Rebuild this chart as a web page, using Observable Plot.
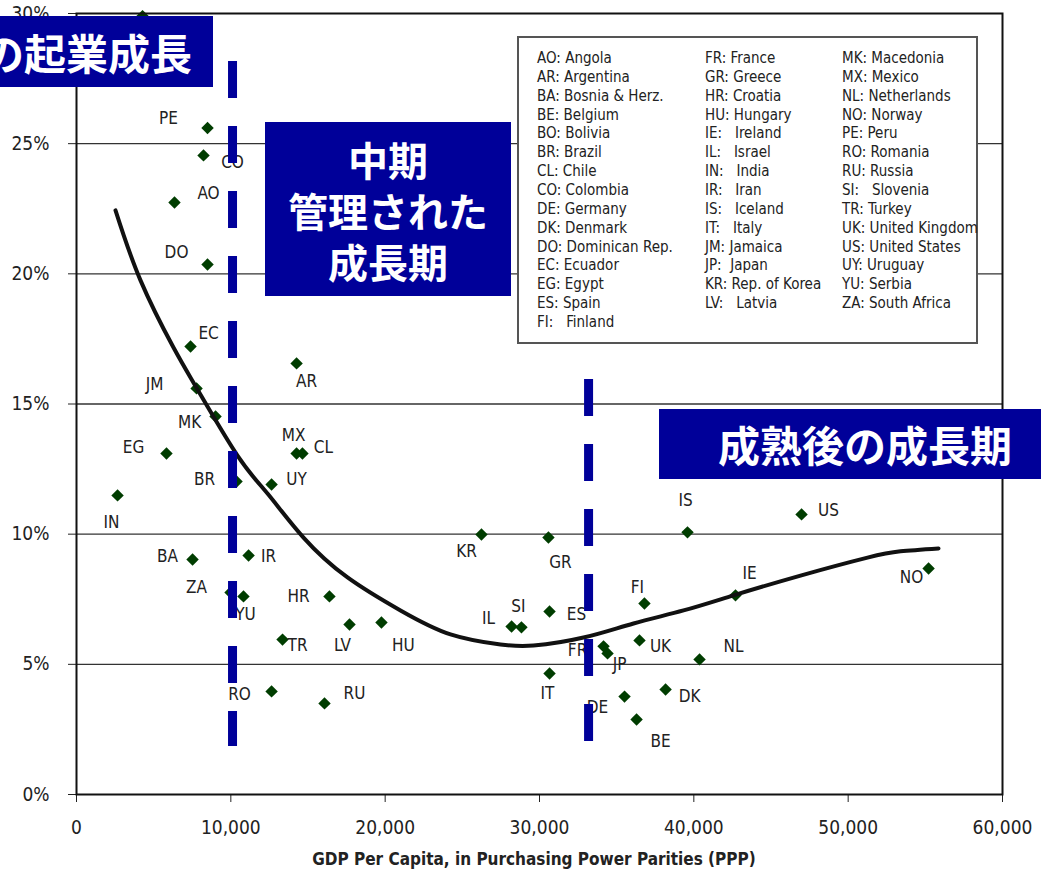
<!DOCTYPE html>
<html><head><meta charset="utf-8">
<script src="https://cdn.jsdelivr.net/npm/d3@7"></script>
<script src="https://cdn.jsdelivr.net/npm/@observablehq/plot@0.6"></script>
<style>
body{margin:0;background:#fff;}
#wrap{position:relative;width:1041px;height:871px;overflow:hidden;background:#fff;}
.box{position:absolute;background:#000099;color:#fff;font-family:"Noto Sans CJK JP",sans-serif;font-weight:700;overflow:hidden;white-space:nowrap;}
#legend{position:absolute;left:517px;top:36px;width:457px;height:304px;border:2px solid #555;background:#fff;
  font-family:"DejaVu Sans Condensed","Liberation Sans",sans-serif;font-size:15px;color:#222;}
#legend .col{position:absolute;top:11px;}
#legend .row{height:18.86px;line-height:18.86px;white-space:pre;}
#xtitle{position:absolute;left:0;width:1068px;text-align:center;top:850px;font-family:"DejaVu Sans Condensed","Liberation Sans",sans-serif;
  font-weight:700;font-size:17px;line-height:18px;color:#222;}
</style></head><body><div id="wrap"></div>
<script>
// ---- data ----
const codes = ["BO","PE","CO","AO","DO","EC","JM","MK","EG","IN","BR","UY","MX","CL","AR","BA","IR","ZA","YU","HR","LV","HU","TR","RO","RU","KR","GR","IL","SI","ES","IT","FR","JP","UK","FI","IE","NL","DK","DE","BE","IS","US","NO"];
const gdpPerCapita = [4280,8490,8230,6350,8490,7390,7780,9010,5830,2660,10370,12640,14260,14640,14260,7520,11150,9980,10820,16390,17690,19760,13350,12640,16070,26240,30580,28190,28830,30650,30650,34150,34410,36480,36800,42700,40370,38170,35510,36290,39590,46980,55210];
const growthRate = [29.9,25.6,24.55,22.74,20.36,17.21,15.6,14.52,13.1,11.49,12.02,11.91,13.1,13.1,16.56,9.03,9.18,7.76,7.61,7.61,6.53,6.61,5.95,3.96,3.5,9.99,9.87,6.45,6.42,7.03,4.65,5.69,5.42,5.92,7.34,7.65,5.19,4.03,3.76,2.88,10.07,10.76,8.68];

const trendGdp = [2527,4147,6285,7840,10432,12376,14709,17560,20994,24234,27474,29612,32852,36092,39331,42571,46913,51254,53392,55854];
const trendGrowth = [22.44,19.75,17.17,15.56,13.02,11.56,9.87,8.34,7.07,6.15,5.76,5.72,6.03,6.57,7.07,7.65,8.41,9.1,9.34,9.45];

const dividerGdp = [10110, 33180];
const dividerTop = [28.16, 15.94];
const dividerBottom = [1.84, 2.0];

const xTicks = [0,10000,20000,30000,40000,50000,60000];
const yTicks = [0,5,10,15,20,25,30];
const gridLevels = [5,10,15,20,25];

const legendCol1 = ["AO: Angola","AR: Argentina","BA: Bosnia & Herz.","BE: Belgium","BO: Bolivia","BR: Brazil","CL: Chile","CO: Colombia","DE: Germany","DK: Denmark","DO: Dominican Rep.","EC: Ecuador","EG: Egypt","ES: Spain","FI:   Finland"];
const legendCol2 = ["FR: France","GR: Greece","HR: Croatia","HU: Hungary","IE:   Ireland","IL:   Israel","IN:   India","IR:   Iran","IS:   Iceland","IT:   Italy","JM: Jamaica","JP:  Japan","KR: Rep. of Korea","LV:   Latvia"];
const legendCol3 = ["MK: Macedonia","MX: Mexico","NL: Netherlands","NO: Norway","PE: Peru","RO: Romania","RU: Russia","SI:   Slovenia","TR: Turkey","UK: United Kingdom","US: United States","UY: Uruguay","YU: Serbia","ZA: South Africa"];

const phaseTitles = ["の起業成長", "中期\n管理された\n成長期", "成熟後の成長期"];
const xAxisTitle = "GDP Per Capita, in Purchasing Power Parities (PPP)";

// label placement (pixel offset of label centre from its point)
const labelOffset = {PE:[-39,-9],CO:[29,7],AO:[34,-9],DO:[-31,-12],EC:[18,-13],JM:[-42,-4],MK:[-26,6],EG:[-33,-6],IN:[-6,27],BR:[-32,-2],UY:[25,-5],MX:[-3,-18],CL:[21,-6],AR:[10,18],BA:[-25,-3],IR:[20,1],ZA:[-34,-5],YU:[2,18],HR:[-31,0],LV:[-7,21],HU:[22,23],TR:[15,6],RO:[-32,3],RU:[30,-10],KR:[-15,17],GR:[12,25],IL:[-23,-8],SI:[-3,-21],ES:[27,3],IT:[-2,20],FR:[-26,4],JP:[12,11],UK:[21,6],FI:[-7,-16],IE:[14,-22],NL:[34,-13],DK:[24,7],DE:[-27,11],BE:[24,22],IS:[-2,-32],US:[27,-4],NO:[-17,9]};

// ---- build ----
const points = codes.map((c,i)=>({code:c, gdp:gdpPerCapita[i], growth:growthRate[i]}));
const trend = trendGdp.map((g,i)=>({gdp:g, growth:trendGrowth[i]}));
const dividers = dividerGdp.map((g,i)=>({gdp:g, top:dividerTop[i], bottom:dividerBottom[i]}));

const narrow = '"DejaVu Sans Condensed","Liberation Sans",sans-serif';

const labelMarks = points.filter(p=>labelOffset[p.code]).map(p=>
  Plot.text([p],{x:"gdp",y:"growth",text:"code",dx:labelOffset[p.code][0],dy:labelOffset[p.code][1],
    fontSize:17,fill:"#222",textAnchor:"middle",lineAnchor:"middle"}));

const chart = Plot.plot({
  width:1041, height:871,
  marginLeft:76, marginRight:39, marginTop:13, marginBottom:77,
  x:{domain:[0,60000], ticks:xTicks, tickFormat:d3.format(","), label:null, tickSize:8, tickPadding:18},
  y:{domain:[0,30], ticks:yTicks, tickFormat:d=>d+"%", label:null, tickSize:8, tickPadding:19},
  style:{fontFamily:narrow, fontSize:"19px", color:"#222", background:"#fff", overflow:"visible"},
  marks:[
    Plot.ruleY(gridLevels,{stroke:"#333",strokeWidth:1.3}),
    Plot.dot(points,{x:"gdp",y:"growth",symbol:"diamond2",r:5.6,fill:"#003d00",stroke:"none"}),
    ...labelMarks,
    Plot.line(trend,{x:"gdp",y:"growth",curve:"natural",stroke:"#111",strokeWidth:4}),
    Plot.ruleX(dividers,{x:"gdp",y1:"top",y2:"bottom",stroke:"#000099",strokeWidth:9,strokeDasharray:"37,28"}),
    Plot.frame({stroke:"#111",strokeWidth:2})
  ]
});
const wrap = document.getElementById("wrap");
wrap.appendChild(chart);
chart.style.position="absolute"; chart.style.left="0"; chart.style.top="0";

// legend
const legend = document.createElement("div"); legend.id="legend";
[[legendCol1,18],[legendCol2,186],[legendCol3,323]].forEach(([arr,left])=>{
  const col=document.createElement("div"); col.className="col"; col.style.left=left+"px";
  arr.forEach(t=>{const r=document.createElement("div"); r.className="row"; r.textContent=t; col.appendChild(r);});
  legend.appendChild(col);
});
wrap.appendChild(legend);

// phase boxes
function box(css, text, inner){
  const b=document.createElement("div"); b.className="box"; Object.assign(b.style,css);
  const s=document.createElement("div"); Object.assign(s.style,inner); s.textContent=text; b.appendChild(s);
  wrap.appendChild(b);
}
box({left:"0px",top:"16px",width:"213px",height:"71px"}, phaseTitles[0],
  {position:"absolute",right:"21px",top:"0",fontSize:"42px",lineHeight:"71px"});
box({left:"265px",top:"122px",width:"246px",height:"174px"}, phaseTitles[1],
  {whiteSpace:"pre",textAlign:"center",fontSize:"40px",lineHeight:"51px",paddingTop:"12px"});
box({left:"659px",top:"409px",width:"400px",height:"70px"}, phaseTitles[2],
  {position:"absolute",left:"59px",top:"0",fontSize:"42px",lineHeight:"70px"});

const xt=document.createElement("div"); xt.id="xtitle"; xt.textContent=xAxisTitle; wrap.appendChild(xt);
</script></body></html>
